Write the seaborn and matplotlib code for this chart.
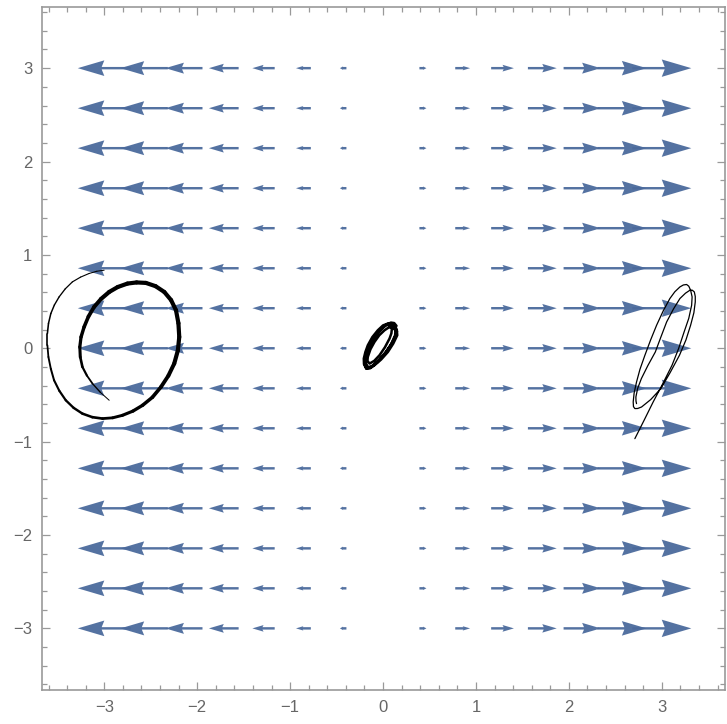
import numpy as np
import matplotlib
matplotlib.use('Agg')
import matplotlib.pyplot as plt
import seaborn as sns
from matplotlib.collections import LineCollection
from matplotlib.ticker import MultipleLocator

sns.set_theme(style='white')
plt.rcParams['font.family'] = ['Liberation Sans', 'DejaVu Sans']

# grid of arrow positions
grid_x = [-3.0, -2.571, -2.143, -1.714, -1.286, -0.857, -0.429, 0.0,
          0.429, 0.857, 1.286, 1.714, 2.143, 2.571, 3.0]
grid_y = [-3.0, -2.571, -2.143, -1.714, -1.286, -0.857, -0.429, 0.0,
          0.429, 0.857, 1.286, 1.714, 2.143, 2.571, 3.0]
# horizontal arrow length per column (data units)
arrow_u = [-0.57, -0.51, -0.40, -0.32, -0.24, -0.16, -0.07, 0.0,
           0.075, 0.16, 0.245, 0.31, 0.40, 0.53, 0.635]

# trajectory on the left (thin -> thick -> thin)
left_x = [-3.001, -3.080, -3.163, -3.255, -3.343, -3.420, -3.486, -3.537, -3.575,
          -3.600, -3.612, -3.612, -3.601, -3.575, -3.540, -3.484, -3.414, -3.330,
          -3.235, -3.128, -3.019, -2.910, -2.804, -2.692, -2.588, -2.482, -2.390,
          -2.310, -2.247, -2.208, -2.193, -2.202, -2.228, -2.281, -2.354, -2.448,
          -2.552, -2.652, -2.750, -2.855, -2.947, -3.035, -3.109, -3.170, -3.217,
          -3.250, -3.263, -3.258, -3.235, -3.187, -3.127, -3.042, -2.947]
left_y = [0.836, 0.825, 0.801, 0.762, 0.711, 0.636, 0.550, 0.463, 0.372,
          0.267, 0.158, 0.032, -0.093, -0.220, -0.343, -0.455, -0.557, -0.638,
          -0.700, -0.738, -0.753, -0.745, -0.718, -0.673, -0.611, -0.525, -0.415,
          -0.294, -0.164, -0.024, 0.121, 0.268, 0.407, 0.516, 0.603, 0.665,
          0.700, 0.705, 0.693, 0.656, 0.603, 0.528, 0.443, 0.340, 0.228,
          0.120, 0.014, -0.095, -0.200, -0.292, -0.378, -0.472, -0.557]

# tangle near the origin
mid_x = [0.124, 0.148, 0.153, 0.110, 0.052, -0.020, -0.092, -0.140, -0.181, -0.205,
         -0.207, -0.190, -0.164, -0.115, -0.056, 0.000, 0.052, 0.100,
         0.135, 0.130, 0.090, 0.030, -0.040, -0.110, -0.160, -0.185, -0.180, -0.140,
         -0.085, -0.020, 0.040, 0.095,
         0.095, 0.090, 0.070, 0.020, -0.038, -0.095, -0.145, -0.168, -0.164, -0.135,
         -0.092, -0.040, 0.016, 0.060, 0.095,
         0.150, 0.125, 0.075, 0.010, -0.060, -0.130, -0.180, -0.200, -0.190, -0.160,
         -0.110, -0.050, 0.030, 0.085, 0.120, 0.145]
mid_y = [0.247, 0.200, 0.139, 0.050, -0.040, -0.120, -0.182, -0.215, -0.218, -0.170,
         -0.110, -0.040, 0.032, 0.120, 0.193, 0.245, 0.265, 0.262,
         0.210, 0.140, 0.050, -0.040, -0.120, -0.185, -0.205, -0.160, -0.080, 0.030,
         0.130, 0.210, 0.250, 0.245,
         0.211, 0.160, 0.104, 0.010, -0.075, -0.135, -0.164, -0.135, -0.093, -0.010,
         0.068, 0.140, 0.193, 0.222, 0.225,
         0.180, 0.110, 0.020, -0.070, -0.150, -0.205, -0.215, -0.165, -0.090, -0.010,
         0.080, 0.170, 0.250, 0.275, 0.270, 0.240]

# thin trajectory on the right
right_x = [2.710, 2.810, 2.907, 3.010, 3.110, 3.180, 3.240, 3.290, 3.321, 3.326,
           3.310, 3.290, 3.267, 3.232, 3.195, 3.140, 3.087, 3.015, 2.944, 2.880,
           2.818, 2.765, 2.728, 2.702, 2.692, 2.695, 2.710, 2.740, 2.782, 2.880,
           2.990, 3.090, 3.190, 3.260, 3.310, 3.345, 3.360, 3.360, 3.350, 3.328,
           3.303, 3.255, 3.195, 3.125, 3.052, 2.990, 2.930, 2.850, 2.780, 2.740,
           2.721, 2.722, 2.728]
right_y = [-0.968, -0.770, -0.575, -0.380, -0.182, -0.005, 0.175, 0.320, 0.461, 0.550,
           0.622, 0.665, 0.683, 0.678, 0.657, 0.605, 0.533, 0.400, 0.247, 0.090,
           -0.075, -0.225, -0.361, -0.480, -0.575, -0.625, -0.646, -0.645, -0.629, -0.550,
           -0.432, -0.260, -0.075, 0.090, 0.247, 0.380, 0.496, 0.555, 0.603, 0.622,
           0.622, 0.590, 0.533, 0.420, 0.282, 0.120, -0.040, -0.185, -0.325, -0.430,
           -0.522, -0.565, -0.593]

arrow_color = '#4b6a9c'
fig = plt.figure(figsize=(7.27, 7.24), dpi=100)
ax = fig.add_axes([42 / 727, 34 / 724, 683 / 727, 683 / 724])

shaft = 0.026
for gx, u in zip(grid_x, arrow_u):
    if u == 0:
        continue
    L = abs(u)
    hl = (L / 2) / shaft
    hw = max((L / 3.4) / shaft, 1.5)
    ax.quiver([gx] * len(grid_y), grid_y, [u] * len(grid_y), [0] * len(grid_y),
              angles='xy', scale_units='xy', scale=1, pivot='middle', units='xy',
              width=shaft, headwidth=hw, headlength=hl, headaxislength=hl * 0.9,
              color=arrow_color, alpha=0.95, zorder=2)

# left trajectory: line width swells from thin to thick and back
pts = np.column_stack([left_x, left_y])
segs = [pts[i:i + 2] for i in range(len(pts) - 1)]
n = len(segs)
left_lw = np.interp(np.arange(n), [0, 10, 20, 28, 40, 46, n - 1],
                    [0.7, 1.2, 2.0, 3.0, 3.0, 2.2, 0.7])
lc = LineCollection(segs, linewidths=left_lw, colors='black', capstyle='round',
                    joinstyle='round', zorder=3)
ax.add_collection(lc)

sns.lineplot(x=mid_x, y=mid_y, sort=False, estimator=None, color='black', lw=1.8,
             ax=ax, zorder=3)
sns.lineplot(x=right_x, y=right_y, sort=False, estimator=None, color='black', lw=0.9,
             ax=ax, zorder=3)

ax.set_xlim(-3.67, 3.68)
ax.set_ylim(-3.66, 3.655)
ax.xaxis.set_major_locator(MultipleLocator(1))
ax.yaxis.set_major_locator(MultipleLocator(1))
ax.xaxis.set_minor_locator(MultipleLocator(0.2))
ax.yaxis.set_minor_locator(MultipleLocator(0.2))
ax.tick_params(which='both', direction='in', bottom=True, left=True, top=True, right=True,
               color='#999999', labelcolor='#666666', labelsize=12, width=0.9)
ax.tick_params(which='major', length=6, pad=7)
ax.tick_params(which='minor', length=3.5)
for spine in ax.spines.values():
    spine.set_visible(True)
    spine.set_color('#999999')
    spine.set_linewidth(1.2)
ax.set_xlabel('')
ax.set_ylabel('')

fig.savefig('out.png', dpi=100)
